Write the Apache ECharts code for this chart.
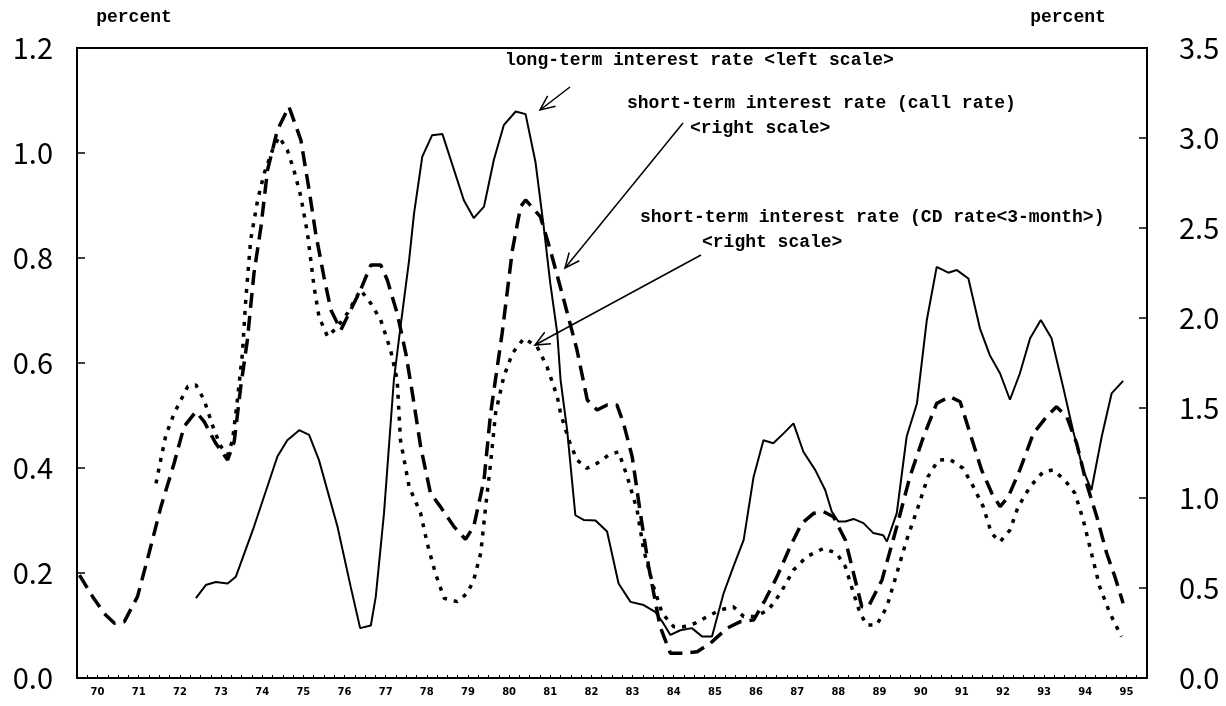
<!DOCTYPE html>
<html>
<head>
<meta charset="utf-8">
<script src="https://cdn.jsdelivr.net/npm/echarts@6/dist/echarts.min.js"></script>
<style>
html, body { margin: 0; padding: 0; background: #fff; }
#main { width: 1226px; height: 706px; }
</style>
</head>
<body>
<div id="main"></div>
<script>
'use strict';
// year labels (each label sits in the middle of its year)
var yearLabels = [70, 71, 72, 73, 74, 75, 76, 77, 78, 79, 80, 81, 82, 83, 84, 85, 86, 87, 88, 89, 90, 91, 92, 93, 94, 95];

// long-term interest rate, left scale  [year, percent]
var longTermRate = [
	[72.89, 0.152], [73.13, 0.177], [73.37, 0.183], [73.66, 0.180], [73.86, 0.193], [74.30, 0.288],
	[74.87, 0.422], [75.11, 0.453], [75.40, 0.472], [75.64, 0.463], [75.88, 0.415], [76.33, 0.288],
	[76.65, 0.174], [76.88, 0.095], [77.14, 0.100], [77.26, 0.155], [77.46, 0.314], [77.70, 0.568],
	[77.86, 0.669], [78.07, 0.796], [78.19, 0.885], [78.39, 0.993], [78.63, 1.034], [78.88, 1.036],
	[79.40, 0.910], [79.64, 0.876], [79.89, 0.898], [80.13, 0.987], [80.37, 1.053], [80.66, 1.079],
	[80.90, 1.074], [81.14, 0.983], [81.34, 0.860], [81.50, 0.752], [81.67, 0.657], [81.75, 0.568],
	[81.91, 0.472], [82.11, 0.310], [82.31, 0.301], [82.60, 0.300], [82.88, 0.279], [83.16, 0.180],
	[83.45, 0.145], [83.77, 0.139], [84.05, 0.126], [84.25, 0.104], [84.42, 0.082], [84.66, 0.091],
	[84.94, 0.095], [85.19, 0.079], [85.43, 0.079], [85.71, 0.161], [85.95, 0.212], [86.20, 0.263],
	[86.44, 0.383], [86.68, 0.453], [86.92, 0.447], [87.17, 0.466], [87.41, 0.485], [87.65, 0.431],
	[87.94, 0.396], [88.18, 0.358], [88.34, 0.317], [88.50, 0.298], [88.67, 0.298], [88.87, 0.303],
	[89.11, 0.295], [89.35, 0.276], [89.59, 0.272], [89.68, 0.260], [89.92, 0.314], [90.16, 0.460],
	[90.41, 0.523], [90.65, 0.682], [90.89, 0.783], [91.17, 0.772], [91.38, 0.777], [91.66, 0.761],
	[91.94, 0.666], [92.18, 0.615], [92.43, 0.580], [92.67, 0.530], [92.91, 0.580], [93.16, 0.647],
	[93.42, 0.682], [93.68, 0.647], [93.96, 0.555], [94.21, 0.469], [94.45, 0.396], [94.65, 0.358],
	[94.90, 0.460], [95.14, 0.542], [95.42, 0.566]
];

// short-term interest rate (call rate), right scale
var callRate = [
	[70.06, 0.572], [70.38, 0.452], [70.66, 0.359], [70.91, 0.304], [71.15, 0.313], [71.47, 0.452],
	[71.75, 0.693], [72.04, 0.952], [72.36, 1.193], [72.60, 1.396], [72.89, 1.480], [73.09, 1.424],
	[73.37, 1.304], [73.66, 1.211], [73.82, 1.313], [73.98, 1.620], [74.14, 1.878], [74.30, 2.248],
	[74.47, 2.507], [74.63, 2.822], [74.87, 3.044], [75.15, 3.174], [75.44, 2.989], [75.64, 2.711],
	[75.80, 2.470], [76.00, 2.229], [76.17, 2.044], [76.41, 1.933], [76.57, 2.007], [76.89, 2.156],
	[77.14, 2.294], [77.38, 2.294], [77.54, 2.211], [77.78, 2.026], [77.99, 1.804], [78.15, 1.582],
	[78.35, 1.285], [78.59, 1.026], [78.83, 0.952], [79.16, 0.841], [79.44, 0.770], [79.64, 0.841],
	[79.89, 1.100], [80.05, 1.470], [80.33, 1.915], [80.58, 2.378], [80.78, 2.619], [80.90, 2.656],
	[81.26, 2.563], [81.50, 2.378], [81.83, 2.100], [82.15, 1.822], [82.40, 1.544], [82.64, 1.489],
	[82.88, 1.517], [83.12, 1.517], [83.28, 1.415], [83.49, 1.230], [83.69, 0.915], [83.89, 0.619],
	[84.17, 0.285], [84.42, 0.137], [84.74, 0.137], [85.07, 0.146], [85.39, 0.193], [85.79, 0.276],
	[86.12, 0.313], [86.44, 0.322], [86.72, 0.433], [87.01, 0.563], [87.33, 0.730], [87.61, 0.859],
	[87.90, 0.915], [88.14, 0.924], [88.38, 0.896], [88.67, 0.767], [88.87, 0.581], [89.07, 0.396],
	[89.23, 0.396], [89.56, 0.544], [89.92, 0.841], [90.24, 1.119], [90.57, 1.341], [90.89, 1.526],
	[91.21, 1.563], [91.46, 1.535], [91.70, 1.359], [91.98, 1.156], [92.23, 1.026], [92.43, 0.952],
	[92.63, 1.007], [92.91, 1.156], [93.24, 1.359], [93.56, 1.452], [93.80, 1.507], [94.05, 1.452],
	[94.29, 1.304], [94.53, 1.081], [94.78, 0.896], [95.02, 0.693], [95.22, 0.563], [95.42, 0.415]
];

// short-term interest rate (CD rate, 3-month), right scale
var cdRate = [
	[71.92, 1.081], [72.00, 1.174], [72.16, 1.350], [72.36, 1.470], [72.69, 1.619], [72.89, 1.628],
	[73.09, 1.544], [73.33, 1.378], [73.50, 1.285], [73.66, 1.239], [73.78, 1.322], [73.90, 1.550],
	[74.02, 1.804], [74.10, 2.100], [74.22, 2.433], [74.39, 2.656], [74.55, 2.804], [74.75, 2.933],
	[74.91, 3.007], [75.11, 2.933], [75.27, 2.822], [75.44, 2.674], [75.60, 2.470], [75.76, 2.174],
	[75.88, 2.007], [76.09, 1.896], [76.33, 1.952], [76.57, 2.026], [76.89, 2.156], [77.14, 2.081],
	[77.38, 1.989], [77.62, 1.822], [77.78, 1.656], [77.86, 1.322], [78.07, 1.063], [78.35, 0.915],
	[78.51, 0.748], [78.71, 0.581], [78.92, 0.443], [79.24, 0.424], [79.48, 0.470], [79.64, 0.544],
	[79.81, 0.693], [79.93, 0.952], [80.05, 1.193], [80.17, 1.470], [80.37, 1.674], [80.58, 1.804],
	[80.86, 1.887], [81.18, 1.841], [81.42, 1.730], [81.67, 1.563], [81.75, 1.470], [81.95, 1.322],
	[82.15, 1.211], [82.39, 1.165], [82.64, 1.193], [82.92, 1.239], [83.16, 1.257], [83.37, 1.119],
	[83.61, 0.933], [83.77, 0.711], [84.01, 0.507], [84.22, 0.359], [84.50, 0.285], [84.74, 0.285],
	[85.02, 0.304], [85.31, 0.341], [85.63, 0.378], [85.95, 0.396], [86.20, 0.341], [86.48, 0.341],
	[86.80, 0.378], [87.09, 0.470], [87.41, 0.600], [87.73, 0.674], [88.14, 0.720], [88.46, 0.693],
	[88.67, 0.619], [88.87, 0.470], [89.03, 0.359], [89.19, 0.294], [89.43, 0.294], [89.68, 0.396],
	[89.92, 0.581], [90.16, 0.767], [90.44, 0.952], [90.68, 1.119], [90.93, 1.211], [91.21, 1.215],
	[91.53, 1.165], [91.78, 1.063], [92.02, 0.952], [92.22, 0.804], [92.43, 0.757], [92.67, 0.822],
	[92.87, 0.952], [93.16, 1.063], [93.48, 1.146], [93.72, 1.156], [94.00, 1.100], [94.25, 1.026],
	[94.45, 0.878], [94.65, 0.693], [94.85, 0.507], [95.10, 0.359], [95.38, 0.230]
];

var monoFont = '"Liberation Mono", "DejaVu Sans Mono", monospace';

// quarter tick marks along the bottom
var quarterTicks = [];
for (var q = 70; q <= 96; q += 0.25) quarterTicks.push(q);

// open V arrow head, used by the notes
function arrow(x1, y1, x2, y2) {
	var a = Math.atan2(y2 - y1, x2 - x1), len = 16, spread = 0.42;
	return [{
		type: 'line',
		shape: {x1: x1, y1: y1, x2: x2, y2: y2},
		style: {stroke: '#000', lineWidth: 1.5}
	}, {
		type: 'polyline',
		shape: {points: [
			[x2 - len * Math.cos(a - spread), y2 - len * Math.sin(a - spread)],
			[x2, y2],
			[x2 - len * Math.cos(a + spread), y2 - len * Math.sin(a + spread)]
		]},
		style: {stroke: '#000', lineWidth: 1.5, fill: null}
	}];
}

function note(text, x, y, align) {
	return {
		type: 'text',
		style: {
			text: text, x: x, y: y, fill: '#000',
			font: 'bold 18px ' + monoFont,
			textAlign: align || 'left', textVerticalAlign: 'middle'
		}
	};
}

var chart = echarts.init(document.getElementById('main'));

var graphics = [
	note('percent', 134, 17, 'center'),
	note('percent', 1068, 17, 'center'),
	note('long-term interest rate <left scale>', 505, 60),
	note('short-term interest rate (call rate)', 627, 103),
	note('<right scale>', 690, 128),
	note('short-term interest rate (CD rate<3-month>)', 640, 217),
	note('<right scale>', 702, 242)
].concat(arrow(570, 87, 540, 110), arrow(683, 123, 565, 268), arrow(701, 255, 535, 345));

var option = {
	backgroundColor: '#fff',
	animation: false,
	grid: {
		left: 77, right: 79, top: 48, bottom: 28,
		show: true, borderColor: '#000', borderWidth: 2,
		containLabel: false
	},
	xAxis: {
		type: 'value',
		min: 70, max: 96,
		axisLine: {lineStyle: {color: '#000', width: 2}},
		axisTick: {inside: true, length: 3, customValues: quarterTicks, lineStyle: {color: '#000', width: 1}},
		axisLabel: {
			customValues: yearLabels.map(function(y) { return y + 0.5; }),
			formatter: function(v) { return String(Math.floor(v)); },
			color: '#000', fontSize: 10, fontWeight: 'bold',
			fontFamily: '"DejaVu Sans", sans-serif', margin: 9
		},
		splitLine: {show: false}
	},
	yAxis: [{
		type: 'value',
		min: 0, max: 1.2, interval: 0.2,
		position: 'left',
		axisLine: {show: true, lineStyle: {color: '#000', width: 2}},
		axisTick: {show: true, inside: true, length: 8, lineStyle: {color: '#000', width: 1.5}},
		axisLabel: {
			formatter: function(v) { return v.toFixed(1); },
			color: '#000', fontSize: 29, fontFamily: '"Noto Sans CJK JP", sans-serif', margin: 24
		},
		splitLine: {show: false}
	}, {
		type: 'value',
		min: 0, max: 3.5, interval: 0.5,
		position: 'right',
		axisLine: {show: true, lineStyle: {color: '#000', width: 2}},
		axisTick: {show: true, inside: true, length: 8, lineStyle: {color: '#000', width: 1.5}},
		axisLabel: {
			formatter: function(v) { return v.toFixed(1); },
			color: '#000', fontSize: 29, fontFamily: '"Noto Sans CJK JP", sans-serif', margin: 32
		},
		splitLine: {show: false}
	}],
	series: [{
		name: 'long-term interest rate',
		type: 'line',
		yAxisIndex: 0,
		data: longTermRate,
		showSymbol: false,
		lineStyle: {color: '#000', width: 2}
	}, {
		name: 'short-term interest rate (call rate)',
		type: 'line',
		yAxisIndex: 1,
		data: callRate,
		showSymbol: false,
		lineStyle: {color: '#000', width: 3.5, type: [15, 8]}
	}, {
		name: 'short-term interest rate (CD rate<3-month>)',
		type: 'line',
		yAxisIndex: 1,
		data: cdRate,
		showSymbol: false,
		lineStyle: {color: '#000', width: 3.5, type: [4, 7]}
	}],
	graphic: graphics
};
chart.setOption(option);
</script>
</body>
</html>
